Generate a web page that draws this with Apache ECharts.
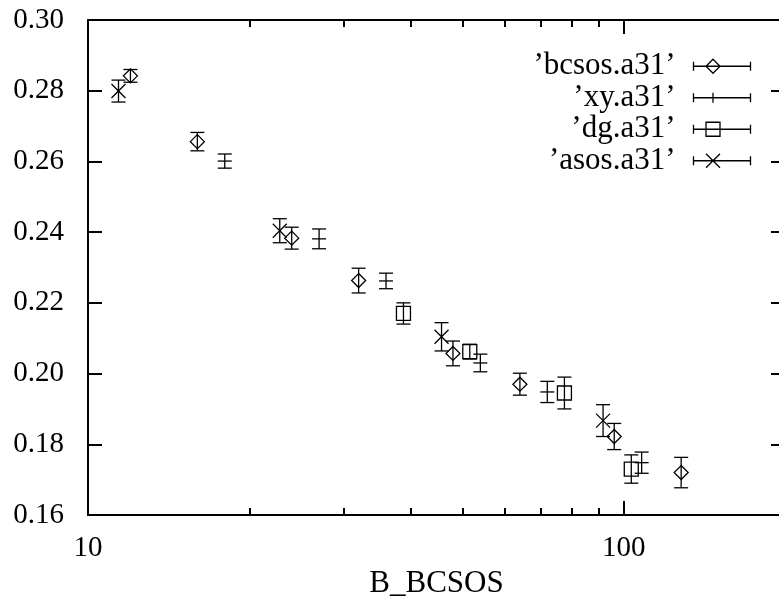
<!DOCTYPE html>
<html>
<head>
<meta charset="utf-8">
<script src="https://cdn.jsdelivr.net/npm/echarts@6/dist/echarts.min.js"></script>
<style>
  html, body { margin: 0; padding: 0; background: #fff; }
  #chart { width: 779px; height: 599px; }
</style>
</head>
<body>
<div id="chart"></div>
<script>
// Series values: [B_BCSOS, value, error]
const bcsosData = [
  [12, 0.2842, 0.0018],
  [16, 0.2656, 0.0026],
  [24, 0.2383, 0.0031],
  [32, 0.2263, 0.0035],
  [48, 0.2057, 0.0035],
  [64, 0.1970, 0.0031],
  [96, 0.1822, 0.0037],
  [128, 0.1720, 0.0043]
];
const xyData = [
  [18, 0.2601, 0.0020],
  [27, 0.2381, 0.0028],
  [36, 0.2262, 0.0022],
  [54, 0.2030, 0.0025],
  [72, 0.1948, 0.0030],
  [108, 0.1748, 0.0030]
];
const dgData = [
  [38.8, 0.2170, 0.0030],
  [51.6, 0.2062, 0.0021],
  [77.5, 0.1945, 0.0045],
  [103.3, 0.1730, 0.0040]
];
const asosData = [
  [11.4, 0.2799, 0.0031],
  [22.8, 0.2404, 0.0034],
  [45.7, 0.2104, 0.0040],
  [91.5, 0.1867, 0.0045]
];

const seriesNames = ['\u2019bcsos.a31\u2019', '\u2019xy.a31\u2019', '\u2019dg.a31\u2019', '\u2019asos.a31\u2019'];
const xMajorTicks = [10, 100];
const xMinorTicks = [20, 30, 40, 50, 60, 70, 80, 90, 200];
const yTickLabels = ['0.16', '0.18', '0.20', '0.22', '0.24', '0.26', '0.28', '0.30'];

const X_MIN = 10;
const X_MAX = 200;

const FONT = 'Liberation Serif';
const INK = '#000';

// Point markers, drawn around the point centre (cx, cy)
function markerShapes(kind, cx, cy) {
  const h = 7;
  const st = { stroke: INK, lineWidth: 1.3, fill: 'none' };
  if (kind === 'diamond') {
    return [{ type: 'polygon', shape: { points: [[cx, cy - h], [cx + h, cy], [cx, cy + h], [cx - h, cy]] }, style: st }];
  }
  if (kind === 'square') {
    return [{ type: 'rect', shape: { x: cx - h, y: cy - h, width: 2 * h, height: 2 * h }, style: st }];
  }
  if (kind === 'cross') {
    return [
      { type: 'line', shape: { x1: cx - h, y1: cy - h, x2: cx + h, y2: cy + h }, style: st },
      { type: 'line', shape: { x1: cx + h, y1: cy - h, x2: cx - h, y2: cy + h }, style: st }
    ];
  }
  // plus: the vertical stroke is the error bar itself
  return [{ type: 'line', shape: { x1: cx - h, y1: cy, x2: cx + h, y2: cy }, style: st }];
}

function errorBarRenderer(kind) {
  return function (params, api) {
    const x = api.value(0), y = api.value(1), e = api.value(2);
    const c = api.coord([x, y]);
    const hi = api.coord([x, y + e]);
    const lo = api.coord([x, y - e]);
    const cap = 7;
    const st = { stroke: INK, lineWidth: 1.3 };
    const children = [
      { type: 'line', shape: { x1: c[0], y1: hi[1], x2: c[0], y2: lo[1] }, style: st },
      { type: 'line', shape: { x1: c[0] - cap, y1: hi[1], x2: c[0] + cap, y2: hi[1] }, style: st },
      { type: 'line', shape: { x1: c[0] - cap, y1: lo[1], x2: c[0] + cap, y2: lo[1] }, style: st }
    ].concat(markerShapes(kind, c[0], c[1]));
    return { type: 'group', children: children };
  };
}

// Key samples: bar with end caps and the marker; leading move widens the box
const keyBase = 'path://M-13 0 M57 14 M0 2.5 L0 11.5 M0 7 L57 7 M57 2.5 L57 11.5';
const keyIcons = [
  keyBase + ' M19.5 0 L26.5 7 L19.5 14 L12.5 7 Z',
  keyBase + ' M19.5 2 L19.5 12',
  keyBase + ' M12.5 0 L26.5 0 L26.5 14 L12.5 14 Z',
  keyBase + ' M12.5 0 L26.5 14 M26.5 0 L12.5 14'
];

function logAxis(position, ticks, tickLen, showLine, showLabels) {
  return {
    type: 'log', logBase: 10, min: X_MIN, max: X_MAX, position: position, gridIndex: 0,
    axisLine: { show: showLine, onZero: false, lineStyle: { color: INK, width: 2 } },
    axisTick: { show: true, inside: true, length: tickLen, customValues: ticks, lineStyle: { color: INK, width: 2 } },
    axisLabel: {
      show: showLabels, customValues: ticks, margin: 19,
      fontFamily: FONT, fontSize: 29, color: INK
    },
    splitLine: { show: false },
    minorTick: { show: false }
  };
}

const xAxes = [
  Object.assign(logAxis('bottom', xMajorTicks, 14, true, true), {
    name: 'B_BCSOS', nameLocation: 'middle', nameGap: 50,
    nameTextStyle: { fontFamily: FONT, fontSize: 31, color: INK }
  }),
  logAxis('bottom', xMinorTicks, 7, false, false),
  logAxis('top', xMajorTicks, 14, true, false),
  logAxis('top', xMinorTicks, 7, false, false)
];

function valueAxis(position, showLabels) {
  return {
    type: 'value', min: 0.16, max: 0.30, interval: 0.02, position: position,
    axisLine: { show: true, onZero: false, lineStyle: { color: INK, width: 2 } },
    axisTick: { show: true, inside: true, length: 14, lineStyle: { color: INK, width: 2 } },
    axisLabel: {
      show: showLabels, margin: 24, fontFamily: FONT, fontSize: 29, color: INK,
      padding: [9, 0, 0, 0],
      formatter: function (v) { return yTickLabels[Math.round((v - 0.16) / 0.02)]; }
    },
    splitLine: { show: false }
  };
}

const datasets = [bcsosData, xyData, dgData, asosData];
const kinds = ['diamond', 'plus', 'square', 'cross'];

const chart = echarts.init(document.getElementById('chart'), null, { renderer: 'canvas' });
chart.setOption({
  animation: false,
  backgroundColor: '#fff',
  grid: { left: 88, top: 20, width: 697, height: 495, containLabel: false, outerBoundsMode: 'none' },
  xAxis: xAxes,
  yAxis: [valueAxis('left', true), valueAxis('right', false)],
  legend: {
    orient: 'vertical', align: 'right', right: 26, top: 50.5, padding: 0, itemGap: 0,
    itemWidth: 70, itemHeight: 14, selectedMode: false,
    itemStyle: { color: 'none', borderColor: INK, borderWidth: 1.3 },
    textStyle: { fontFamily: FONT, fontSize: 31, color: INK, lineHeight: 31.5 },
    data: seriesNames.map(function (n, i) { return { name: n, icon: keyIcons[i] }; })
  },
  series: datasets.map(function (d, i) {
    return {
      name: seriesNames[i], type: 'custom', xAxisIndex: 0, yAxisIndex: 0,
      renderItem: errorBarRenderer(kinds[i]),
      encode: { x: 0, y: 1 },
      data: d
    };
  })
});
</script>
</body>
</html>
